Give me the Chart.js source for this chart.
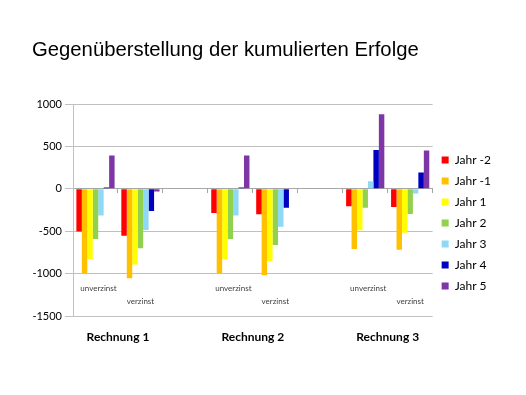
<!DOCTYPE html>
<html>
<head>
<meta charset="utf-8">
<script src="https://cdn.jsdelivr.net/npm/chart.js@4/dist/chart.umd.min.js"></script>
<style>
  html, body { margin: 0; padding: 0; background: #ffffff; }
  #wrap { width: 526px; height: 395px; }
</style>
</head>
<body>
<div id="wrap"><canvas id="c" width="526" height="395"></canvas></div>
<script>
const chartTitle = 'Gegenüberstellung der kumulierten Erfolge';
const categories = ['unverzinst', 'verzinst', '', 'unverzinst', 'verzinst', '', 'unverzinst', 'verzinst'];
const groups = ['Rechnung 1', 'Rechnung 2', 'Rechnung 3'];
const groupTickPositions = [1, 4, 7];
const seriesNames = ['Jahr -2', 'Jahr -1', 'Jahr 1', 'Jahr 2', 'Jahr 3', 'Jahr 4', 'Jahr 5'];
const jahrMinus2 = [-505, -555, null, -285, -300, null, -205, -215];
const jahrMinus1 = [-1000, -1055, null, -1000, -1020, null, -710, -718];
const jahr1 = [-828, -893, null, -828, -850, null, -490, -518];
const jahr2 = [-592, -700, null, -592, -663, null, -224, -298];
const jahr3 = [-314, -486, null, -314, -447, null, 90, -55];
const jahr4 = [16, -263, null, 16, -224, null, 459, 192];
const jahr5 = [392, -31, null, 392, -5, null, 878, 451];
const yTicks = [1000, 500, 0, -500, -1000, -1500];

const seriesValues = [jahrMinus2, jahrMinus1, jahr1, jahr2, jahr3, jahr4, jahr5];
const seriesColors = ['#FF0000', '#FFC000', '#FFFF00', '#92D050', '#8ED8F8', '#0000C0', '#7E35A6'];

const subLabelPlugin = {
  id: 'subLabels',
  afterDatasetsDraw(chart) {
    const { ctx, chartArea } = chart;
    const x = chart.scales.x;
    ctx.save();
    ctx.font = '8px Lato';
    ctx.fillStyle = '#404040';
    ctx.textAlign = 'center';
    ctx.textBaseline = 'middle';
    categories.forEach((c, i) => {
      if (!c) return;
      const first = (c === 'unverzinst');
      const yy = chartArea.bottom - (first ? 28 : 15);
      ctx.fillText(c, x.getPixelForValue(i) + (first ? 3 : 0), yy);
    });
    ctx.restore();
  }
};

new Chart(document.getElementById('c'), {
  type: 'bar',
  data: {
    labels: categories,
    datasets: seriesNames.map((name, i) => ({
      label: name,
      data: seriesValues[i],
      backgroundColor: seriesColors[i],
      borderWidth: 0,
      barPercentage: 1.0,
      categoryPercentage: 0.85
    }))
  },
  options: {
    responsive: false,
    animation: false,
    devicePixelRatio: 1,
    layout: { padding: { left: 32, right: 25, top: 0, bottom: 0 } },
    plugins: {
      title: {
        display: true,
        text: chartTitle,
        align: 'start',
        color: '#000000',
        font: { family: 'Liberation Sans', size: 20.3, weight: 'normal', lineHeight: 1.2 },
        padding: { top: 37.8, bottom: 41.84 }
      },
      legend: {
        position: 'right',
        fullSize: false,
        align: 'center',
        title: { display: true, text: '', font: { size: 12, lineHeight: 1.2 }, padding: { top: 11.6, bottom: 0 } },
        labels: {
          boxWidth: 7,
          boxHeight: 7,
          padding: 9,
          color: '#000000',
          font: { family: 'Lato', size: 12 }
        }
      },
      tooltip: { enabled: false }
    },
    scales: {
      x: {
        type: 'category',
        position: { y: 0 },
        ticks: { display: false },
        grid: { drawOnChartArea: false, drawTicks: true, tickLength: 4, color: '#a6a6a6', offset: true },
        border: { display: true, color: '#a6a6a6', width: 1 }
      },
      x2: {
        type: 'linear',
        position: 'bottom',
        offset: false,
        min: 0,
        max: categories.length,
        afterBuildTicks: (s) => { s.ticks = groupTickPositions.map(v => ({ value: v })); },
        afterFit: (s) => { s.height = 79; },
        ticks: {
          autoSkip: false,
          maxRotation: 0,
          padding: 14,
          color: '#000000',
          font: { family: 'Lato', size: 12, weight: 'bold' },
          callback: (v) => groups[groupTickPositions.indexOf(v)]
        },
        grid: { display: false, drawTicks: false, offset: false },
        border: { display: false }
      },
      y: {
        min: yTicks[yTicks.length - 1],
        max: yTicks[0],
        afterBuildTicks: (s) => { s.ticks = yTicks.map(v => ({ value: v })); },
        afterFit: (s) => { s.width = 41; },
        ticks: {
          padding: 3,
          color: '#000000',
          font: { family: 'Lato', size: 11 },
          callback: (v) => String(v)
        },
        grid: { color: '#c0c0c0', tickLength: 8 },
        border: { color: '#c0c0c0' }
      }
    }
  },
  plugins: [subLabelPlugin]
});
</script>
</body>
</html>
